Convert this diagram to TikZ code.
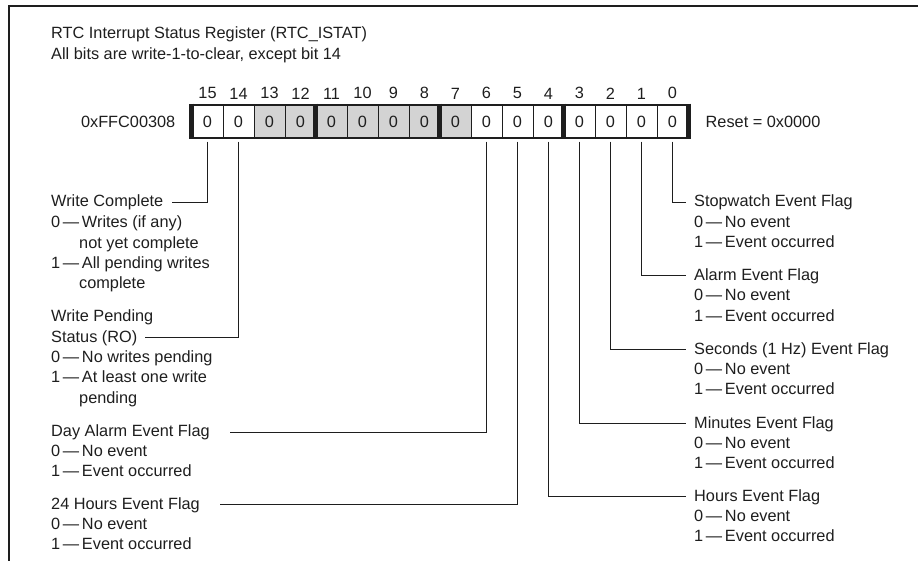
\documentclass[tikz,border=0pt]{standalone}
\usepackage{fontspec}
\setmainfont{Liberation Sans}
\usepackage{xcolor}
\usepackage{tikz}
\usetikzlibrary{positioning}
\definecolor{regGray}{RGB}{211,211,211}
\definecolor{regInk}{RGB}{30,30,30}
\newcommand{\regfont}{\fontsize{16.3}{20.3}\selectfont}

\begin{document}
\begin{tikzpicture}[x=1pt, y=-1pt, regInk,
  txt/.style={anchor=base west, inner sep=0pt, font=\regfont},
  bitcell/.style={draw, line width=1pt, minimum width=31pt, minimum height=31.5pt, inner sep=0pt, font=\regfont},
  bitnum/.style={inner sep=0pt, font=\regfont},
  leader/.style={line width=1.2pt, shorten <=4pt},
  nibble/.style={line width=5pt, shorten <=-1.5pt, shorten >=-1.5pt},
  frameline/.style={line width=1.3pt}]
\useasboundingbox (0,0) rectangle (918,561);
\draw[frameline] (918,6) -- (9,6) -- (9,561);
\node[txt] (title) at (51,39) {RTC Interrupt Status Register (RTC\_ISTAT)};
\node[txt] (subtitle) at (51,60) {All bits are write-1-to-clear, except bit 14};

%
\foreach \b/\f in {15/white,14/white,13/regGray,12/regGray,11/regGray,10/regGray,9/regGray,8/regGray,7/regGray,6/white,5/white,4/white,3/white,2/white,1/white,0/white}
  \node[bitcell, fill=\f] (b\b) at ({192+(15-\b)*31+15.5},121.5) {0};
\foreach \b in {0,...,15}
  \node[bitnum, above=6pt of b\b] (n\b) {\b};
\draw[line width=1.6pt] (b15.north west) rectangle (b0.south east);
\foreach \c in {b15.west,b11.west,b7.west,b3.west,b0.east}
  \draw[nibble] (\c |- b15.north) -- (\c |- b15.south);
\node[bitnum, left=16pt of b15] (addr) {0xFFC00308};
\node[bitnum, right=17pt of b0] (reset) {Reset = 0x0000};

%
\begin{scope}[shift={(51,0)}]
\node[txt] (wc) at (0,207) {Write Complete};
\node[txt] (wc0) at (0,228) {0\,\textemdash\,Writes (if any)};
\node[txt] (wc0b) at (28,249) {not yet complete};
\node[txt] (wc1) at (0,269) {1\,\textemdash\,All pending writes};
\node[txt] (wc1b) at (28,289) {complete};
\node[txt] (wp) at (0,321) {Write Pending};
\node[txt] (wpst) at (0,342) {Status (RO)};
\node[txt] (wp0) at (0,362) {0\,\textemdash\,No writes pending};
\node[txt] (wp1) at (0,382) {1\,\textemdash\,At least one write};
\node[txt] (wp1b) at (28,403) {pending};
\node[txt] (dayalarm) at (0,436.5) {Day Alarm Event Flag};
\node[txt] (dayalarm0) at (0,456) {0\,\textemdash\,No event};
\node[txt] (dayalarm1) at (0,476) {1\,\textemdash\,Event occurred};
\node[txt] (hours24) at (0,509) {24 Hours Event Flag};
\node[txt] (hours240) at (0,529) {0\,\textemdash\,No event};
\node[txt] (hours241) at (0,549) {1\,\textemdash\,Event occurred};
\end{scope}

%
\begin{scope}[shift={(694,0)}]
\node[txt] (stopwatch) at (0,207) {Stopwatch Event Flag};
\node[txt] (stopwatch0) at (0,228) {0\,\textemdash\,No event};
\node[txt] (stopwatch1) at (0,248) {1\,\textemdash\,Event occurred};
\node[txt] (alarm) at (0,280) {Alarm Event Flag};
\node[txt] (alarm0) at (0,301) {0\,\textemdash\,No event};
\node[txt] (alarm1) at (0,321) {1\,\textemdash\,Event occurred};
\node[txt] (seconds) at (0,354) {Seconds (1 Hz) Event Flag};
\node[txt] (seconds0) at (0,374) {0\,\textemdash\,No event};
\node[txt] (seconds1) at (0,394) {1\,\textemdash\,Event occurred};
\node[txt] (minutes) at (0,428) {Minutes Event Flag};
\node[txt] (minutes0) at (0,448) {0\,\textemdash\,No event};
\node[txt] (minutes1) at (0,468) {1\,\textemdash\,Event occurred};
\node[txt] (hours) at (0,501) {Hours Event Flag};
\node[txt] (hours0) at (0,521) {0\,\textemdash\,No event};
\node[txt] (hours1) at (0,541) {1\,\textemdash\,Event occurred};
\end{scope}

%
\draw[leader, shorten >=9pt] (b15.south) |- (wc.east);
\draw[leader, shorten >=8pt] (b14.south) |- (wpst.east);
\draw[leader, shorten >=20pt] (b6.south) |- (dayalarm.east);
\draw[leader, shorten >=20pt] (b5.south) |- (hours24.east);
\draw[leader, shorten >=8pt] (b0.south) |- (stopwatch.west);
\draw[leader, shorten >=8pt] (b1.south) |- (alarm.west);
\draw[leader, shorten >=8pt] (b2.south) |- (seconds.west);
\draw[leader, shorten >=8pt] (b3.south) |- (minutes.west);
\draw[leader, shorten >=8pt] (b4.south) |- (hours.west);
\end{tikzpicture}
\end{document}
